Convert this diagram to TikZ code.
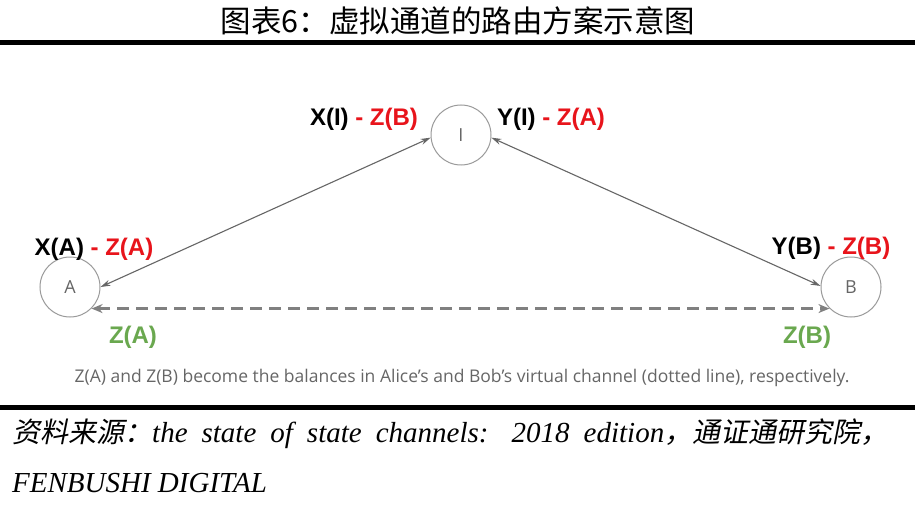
\documentclass[tikz,border=0pt]{standalone}
\usepackage{fontspec}
\setmainfont{Liberation Serif}
\newfontfamily\labfont{Liberation Sans}
\newfontfamily\capfont{Open Sans}
\newfontfamily\cjk{Noto Sans CJK SC}
\newfontfamily\cjkit[FakeSlant=0.2]{Noto Sans CJK SC}
\usetikzlibrary{arrows.meta}
\definecolor{lred}{HTML}{E8141B}
\definecolor{lgreen}{HTML}{6AA84F}
\definecolor{lgray}{HTML}{666666}
\definecolor{cgray}{HTML}{9A9A9A}
\begin{document}
\begin{tikzpicture}[x=1pt,y=-1pt,
  circ/.style={circle,draw=cgray,line width=1pt,minimum size=60pt,inner sep=0pt,text=lgray,font=\capfont\fontsize{18}{20}\selectfont},
  lab/.style={anchor=base,inner sep=0pt,font=\labfont\bfseries\fontsize{24}{28}\selectfont},
  conn/.style={draw=lgray,line width=1.1pt,{Stealth[length=10pt,width=6pt]}-{Stealth[length=10pt,width=6pt]}},
  dconn/.style={draw=gray,line width=2.4pt,dash pattern=on 12pt off 7pt,{Stealth[length=11pt,width=9pt]}-{Stealth[length=11pt,width=9pt]}},
  rulebar/.style={line width=5.5pt,black}]
\useasboundingbox (0,0) rectangle (915,505);
\fill[white] (0,0) rectangle (915,505);
% title and rules
\node[font=\cjk\fontsize{30.5}{34}\selectfont,inner sep=0pt] (title) at (458,21) {图表6：虚拟通道的路由方案示意图};
\coordinate (r1a) at (0,42.5); \coordinate (r1b) at (915,42.5);
\coordinate (r2a) at (0,407.5); \coordinate (r2b) at (915,407.5);
\draw[rulebar] (r1a) -- (r1b);
\draw[rulebar] (r2a) -- (r2b);
% nodes
\node[circ] (I) at (461,135) {I};
\node[circ] (A) at (70,287) {A};
\node[circ] (B) at (851,287) {B};
% connectors
\draw[conn] (A.east) -- (I.185);
\draw[conn] (I.-5) -- (B.178);
\draw[dconn] (A.-45) -- (B.-135);
% labels
\node[lab] (lXI) at (364,126) {X(I) \textcolor{lred}{- Z(B)}};
\node[lab] (lYI) at (551,126) {Y(I) \textcolor{lred}{- Z(A)}};
\node[lab] (lXA) at (94,255) {X(A) \textcolor{lred}{- Z(A)}};
\node[lab] (lYB) at (831,254) {Y(B) \textcolor{lred}{- Z(B)}};
\node[lab,text=lgreen] (lZA) at (133,343) {Z(A)};
\node[lab,text=lgreen] (lZB) at (807,343) {Z(B)};
\node[anchor=base,inner sep=0pt,text=lgray,font=\capfont\fontsize{17.5}{20}\selectfont] (cap) at (462,382) {Z(A) and Z(B) become the balances in Alice’s and Bob’s virtual channel (dotted line), respectively.};
% source
\node[anchor=base west,inner sep=0pt,font=\fontsize{29}{32}\selectfont] (src1) at (12,442) {\makebox[876pt][s]{{\cjkit\fontsize{28}{32}\selectfont 资料来源：}\itshape the state of state channels: 2018 edition{\cjkit\fontsize{28}{32}\selectfont ，通证通研究院，}}};
\node[anchor=base west,inner sep=0pt,font=\fontsize{29}{32}\selectfont\itshape] (src2) at (12,492) {FENBUSHI DIGITAL};
\end{tikzpicture}
\end{document}
